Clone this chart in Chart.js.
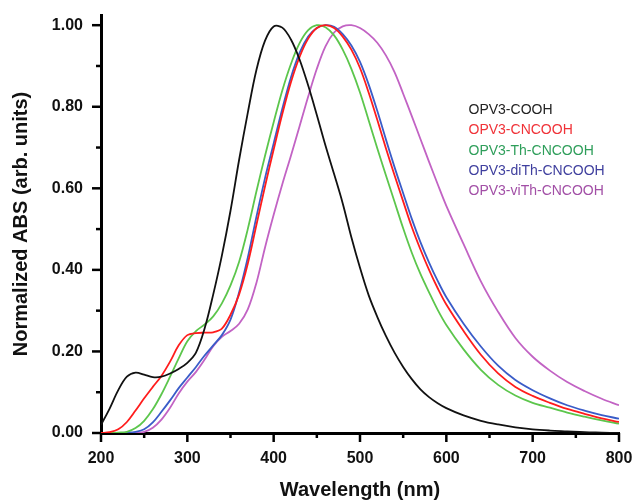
<!DOCTYPE html>
<html><head><meta charset="utf-8">
<script src="https://cdn.jsdelivr.net/npm/chart.js@4.4.1/dist/chart.umd.min.js"></script>
<style>html,body{margin:0;padding:0;background:#fff}#wrap{width:635px;height:503px}</style>
</head><body><div id="wrap"><canvas id="c" width="635" height="503"></canvas></div>
<script>
const wavelengths = [200,210,220,230,240,250,260,270,280,290,300,310,320,330,340,350,360,370,380,390,400,410,420,430,440,450,460,470,480,490,500,510,520,530,540,550,560,570,580,590,600,620,640,660,680,700,720,740,760,780,800];
const seriesNames = ["OPV3-COOH","OPV3-CNCOOH","OPV3-Th-CNCOOH","OPV3-diTh-CNCOOH","OPV3-viTh-CNCOOH"];
const opv3COOH = [0.020,0.060,0.105,0.138,0.148,0.143,0.137,0.138,0.146,0.157,0.172,0.197,0.256,0.340,0.435,0.545,0.670,0.785,0.890,0.962,0.997,0.994,0.965,0.916,0.852,0.780,0.705,0.635,0.563,0.480,0.405,0.338,0.285,0.238,0.197,0.162,0.132,0.107,0.088,0.073,0.061,0.043,0.030,0.021,0.014,0.009,0.006,0.004,0.002,0.001,0.000];
const opv3CNCOOH = [0.000,0.002,0.009,0.027,0.055,0.085,0.113,0.140,0.175,0.215,0.240,0.245,0.246,0.247,0.256,0.290,0.340,0.415,0.510,0.605,0.695,0.782,0.860,0.922,0.967,0.993,1.000,0.993,0.972,0.940,0.895,0.835,0.768,0.698,0.632,0.568,0.505,0.450,0.400,0.355,0.315,0.250,0.192,0.146,0.113,0.091,0.074,0.059,0.047,0.036,0.027];
const opv3ThCNCOOH = [0.000,0.000,0.001,0.003,0.012,0.030,0.058,0.095,0.138,0.183,0.225,0.250,0.266,0.286,0.318,0.362,0.420,0.500,0.592,0.680,0.762,0.840,0.905,0.956,0.988,1.000,0.995,0.975,0.940,0.893,0.835,0.767,0.698,0.632,0.567,0.502,0.442,0.390,0.345,0.302,0.265,0.205,0.155,0.118,0.092,0.074,0.062,0.050,0.040,0.031,0.023];
const opv3diThCNCOOH = [0.000,0.000,0.000,0.001,0.003,0.009,0.026,0.052,0.080,0.110,0.136,0.162,0.190,0.215,0.240,0.278,0.345,0.430,0.530,0.625,0.710,0.795,0.872,0.932,0.972,0.993,1.000,0.996,0.978,0.950,0.910,0.855,0.790,0.720,0.652,0.588,0.525,0.468,0.418,0.373,0.333,0.268,0.212,0.165,0.130,0.105,0.085,0.068,0.055,0.044,0.035];
const opv3viThCNCOOH = [0.000,0.000,0.000,0.000,0.001,0.003,0.013,0.033,0.062,0.097,0.126,0.150,0.180,0.213,0.236,0.250,0.268,0.303,0.368,0.455,0.535,0.610,0.680,0.752,0.825,0.893,0.948,0.982,0.997,1.000,0.993,0.978,0.957,0.926,0.885,0.832,0.777,0.721,0.665,0.610,0.557,0.463,0.372,0.297,0.233,0.187,0.153,0.125,0.103,0.084,0.068];
const lineColors = ["#111111","#ff1c1c","#5cc64c","#3a5cc8","#c263c4"];
const legendColors = ["#222222","#f03238","#2e9e5a","#3f3f9e","#a24fa6"];
const xMajorTicks = [200,300,400,500,600,700,800];
const xMinorTicks = [250,350,450,550,650,750];
const yMajorTicks = [0,0.2,0.4,0.6,0.8,1.0];
const yMinorTicks = [0.1,0.3,0.5,0.7,0.9];

const allSeries = [opv3COOH, opv3CNCOOH, opv3ThCNCOOH, opv3diThCNCOOH, opv3viThCNCOOH];
const datasets = allSeries.map((vals, i) => ({
  label: seriesNames[i],
  data: wavelengths.map((w, j) => ({x: w, y: vals[j]})),
  borderColor: lineColors[i],
  borderWidth: 1.8,
  pointRadius: 0,
  fill: false,
  showLine: true,
  tension: 0.35
}));

const tickMarks = {
  id: 'tickMarks',
  afterDraw(chart) {
    const {ctx, scales: {x, y}, chartArea} = chart;
    ctx.save();
    ctx.strokeStyle = '#000';
    ctx.lineWidth = 2.5;
    const ax = chartArea.left, ay = chartArea.bottom;
    const h = (v, len) => { const p = y.getPixelForValue(v); ctx.beginPath(); ctx.moveTo(ax, p); ctx.lineTo(ax - len, p); ctx.stroke(); };
    const vt = (v, len) => { const p = x.getPixelForValue(v); ctx.beginPath(); ctx.moveTo(p, ay); ctx.lineTo(p, ay + len); ctx.stroke(); };
    yMajorTicks.forEach(v => h(v, 9));
    yMinorTicks.forEach(v => h(v, 5));
    xMajorTicks.forEach(v => vt(v, 9));
    xMinorTicks.forEach(v => vt(v, 5));
    ctx.restore();
  }
};

const textLegend = {
  id: 'textLegend',
  afterDraw(chart) {
    const {ctx, chartArea} = chart;
    ctx.save();
    ctx.font = '14px "Liberation Sans", Arial, sans-serif';
    ctx.textBaseline = 'middle';
    ctx.textAlign = 'left';
    const lx = chartArea.left + 0.7095 * (chartArea.right - chartArea.left);
    const h = chartArea.bottom - chartArea.top;
    seriesNames.forEach((n, i) => {
      ctx.fillStyle = legendColors[i];
      ctx.fillText(n, lx, chartArea.top + (0.228 + i * 0.0486) * h);
    });
    ctx.restore();
  }
};

const zeroPad = s => { s.paddingTop = 0; s.paddingBottom = 0; s.paddingLeft = 0; s.paddingRight = 0; };

new Chart(document.getElementById('c'), {
  type: 'scatter',
  data: {datasets},
  plugins: [tickMarks, textLegend],
  options: {
    responsive: false,
    devicePixelRatio: 1,
    animation: false,
    layout: {padding: {left: 0, right: 16, top: 15, bottom: 0}},
    plugins: {legend: {display: false}, tooltip: {enabled: false}},
    scales: {
      x: {
        type: 'linear', min: 200, max: 800,
        afterBuildTicks: s => { s.ticks = xMajorTicks.map(v => ({value: v})); },
        afterFit: s => { s.height = 70; zeroPad(s); },
        grid: {display: false, drawTicks: false},
        border: {display: true, color: '#000', width: 3},
        ticks: {color: '#111', padding: 16, font: {family: '"Liberation Sans", Arial, sans-serif', size: 16, weight: 'bold'}, callback: v => String(v), maxRotation: 0},
        title: {display: true, text: 'Wavelength (nm)', color: '#111', padding: {top: 0, bottom: 1}, font: {family: '"Liberation Sans", Arial, sans-serif', size: 20, weight: 'bold'}}
      },
      y: {
        type: 'linear', min: 0, max: 1.025,
        afterBuildTicks: s => { s.ticks = yMajorTicks.map(v => ({value: v})); },
        afterFit: s => { s.width = 101; zeroPad(s); },
        grid: {display: false, drawTicks: false},
        border: {display: true, color: '#000', width: 3},
        ticks: {color: '#111', padding: 18, font: {family: '"Liberation Sans", Arial, sans-serif', size: 16, weight: 'bold'}, callback: v => Number(v).toFixed(2)},
        title: {display: true, text: 'Normalized ABS (arb. units)', color: '#111', padding: {top: 9, bottom: 0}, font: {family: '"Liberation Sans", Arial, sans-serif', size: 20, weight: 'bold'}}
      }
    }
  }
});
</script></body></html>
